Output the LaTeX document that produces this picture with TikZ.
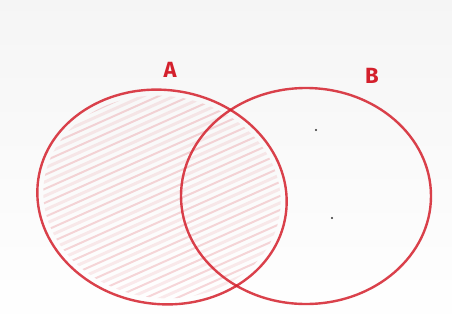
\documentclass[tikz,border=0pt]{standalone}
\usepackage{fontspec}
\setmainfont{Fira Sans}
\definecolor{crayon}{RGB}{212,32,44}
\definecolor{paper}{RGB}{246,246,246}
\begin{document}
\begin{tikzpicture}[x=1pt,y=-1pt,
  setline/.style={draw=crayon,line width=2.4pt,opacity=0.85},
  hatchline/.style={draw=crayon,line width=2pt,opacity=0.18,line cap=round},
  setlabel/.style={text=crayon,font=\bfseries\fontsize{22}{22}\selectfont,inner sep=0pt},
  dotmark/.style={fill=black!80,circle,inner sep=0pt,minimum size=2.2pt}]
\useasboundingbox (0,0) rectangle (452,330);
\shade[top color=paper!80!gray!30, bottom color=white] (0,0) rectangle (452,330);
% hatch inside A
\begin{scope}
  \clip[rotate around={-8:(162,197)}] (162,197) ellipse [x radius=119, y radius=101];
  \foreach \k in {-12,...,14}{
    \draw[hatchline] (20,{200+\k*14}) -- (300,{200+\k*14-125});
  }
  \foreach \k in {-12,...,14}{
    \draw[hatchline,opacity=0.09,line width=3pt] (20,{207+\k*14}) -- (300,{207+\k*14-125});
  }
\end{scope}
\draw[setline,rotate around={-8:(162,197)}] (162,197) ellipse [x radius=125, y radius=107];
\draw[setline] (306,196) ellipse [x radius=125, y radius=108];
\node[setlabel] (labA) at (170,70) {A};
\node[setlabel] (labB) at (372,76) {B};
\node[dotmark] (d1) at (316,130) {};
\node[dotmark] (d2) at (332,218) {};
\end{tikzpicture}
\end{document}
